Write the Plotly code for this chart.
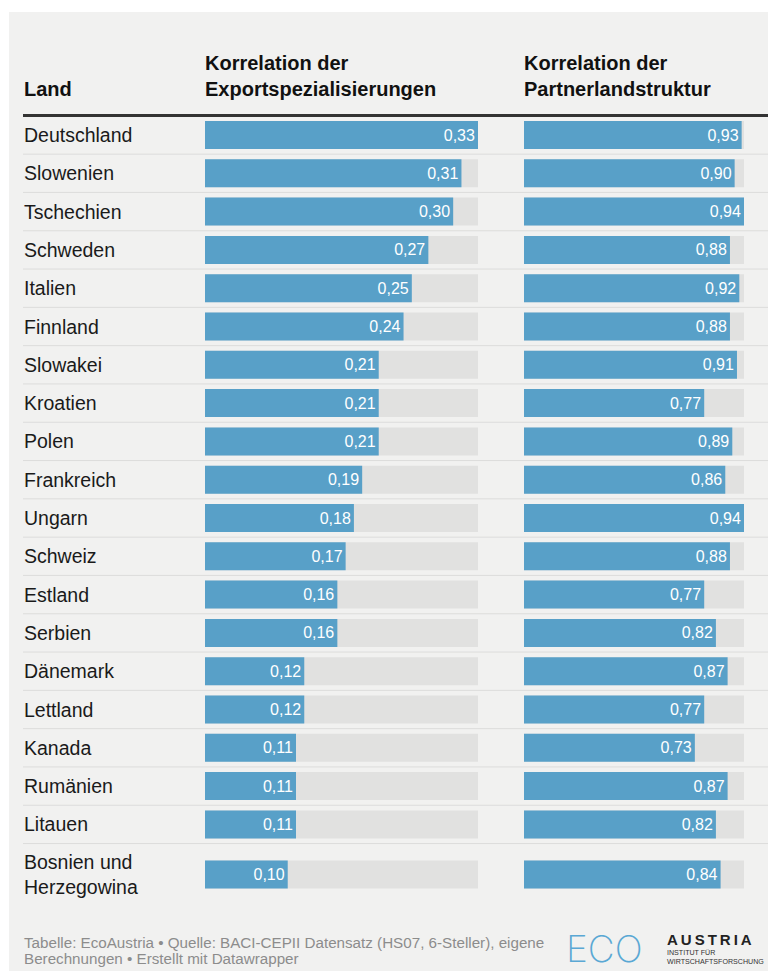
import plotly.graph_objects as go

laender = ["Deutschland", "Slowenien", "Tschechien", "Schweden", "Italien", "Finnland",
           "Slowakei", "Kroatien", "Polen", "Frankreich", "Ungarn", "Schweiz", "Estland",
           "Serbien", "Dänemark", "Lettland", "Kanada", "Rumänien", "Litauen",
           "Bosnien und<br>Herzegowina"]
export_korr = [0.33, 0.31, 0.30, 0.27, 0.25, 0.24, 0.21, 0.21, 0.21, 0.19,
               0.18, 0.17, 0.16, 0.16, 0.12, 0.12, 0.11, 0.11, 0.11, 0.10]
partner_korr = [0.93, 0.90, 0.94, 0.88, 0.92, 0.88, 0.91, 0.77, 0.89, 0.86,
                0.94, 0.88, 0.77, 0.82, 0.87, 0.77, 0.73, 0.87, 0.82, 0.84]
headers = ["Land", "Korrelation der<br>Exportspezialisierungen", "Korrelation der<br>Partnerlandstruktur"]
footer_lines = ["Tabelle: EcoAustria • Quelle: BACI-CEPII Datensatz (HS07, 6-Steller), eigene",
                "Berechnungen • Erstellt mit Datawrapper"]

W, H = 768, 971
BG = "#f1f1f0"
BLUE = "#58a0c8"
TRACK = "#e1e1e0"
FONT = "Liberation Sans, Arial, sans-serif"

# row geometry (pixels)
row_px = 38.3
first_center = 135.0
top_px, bottom_px = 117.0, 910.0


def px_x(x):
    return x / W


def px_y(y):
    return 1 - y / H


# the two-line last row sits a bit lower
ypos = [i for i in range(len(laender) - 1)] + [len(laender) - 1 + 0.31]
yrange = [(bottom_px - first_center) / row_px, (top_px - first_center) / row_px]

fig = go.Figure()
for xa, vals, vmax in [("x", export_korr, max(export_korr)), ("x2", partner_korr, max(partner_korr))]:
    fig.add_trace(go.Bar(x=[vmax] * len(vals), y=ypos, orientation="h", xaxis=xa, yaxis="y",
                         marker=dict(color=TRACK, line_width=0), width=28 / row_px,
                         hoverinfo="skip", showlegend=False))
    fig.add_trace(go.Bar(x=vals, y=ypos, orientation="h", xaxis=xa, yaxis="y",
                         marker=dict(color=BLUE, line_width=0), width=28 / row_px,
                         texttemplate="%{x:.2f}", textposition="inside", insidetextanchor="end",
                         textfont=dict(color="white", size=16, family=FONT),
                         showlegend=False))

# grey panel
shapes = [dict(type="rect", xref="paper", yref="paper", x0=px_x(9), x1=1, y0=0, y1=px_y(12),
               fillcolor=BG, line_width=0, layer="below")]
# header rule
shapes.append(dict(type="line", xref="paper", yref="paper", x0=px_x(23), x1=1,
                   y0=px_y(115.5), y1=px_y(115.5), line=dict(color="#333333", width=3)))
# row separators
for i in range(len(laender) - 1):
    shapes.append(dict(type="line", xref="paper", yref="y", x0=px_x(23), x1=1,
                       y0=i + 0.5, y1=i + 0.5, line=dict(color="#dcdcdb", width=1)))

annotations = []
for name, y in zip(laender, ypos):
    annotations.append(dict(text=name, xref="paper", yref="y", x=px_x(22), y=y,
                            xanchor="left", yanchor="middle", showarrow=False, align="left",
                            font=dict(size=19.5, color="#1a1a1a", family=FONT)))

head_x = [22, 203, 522]
head_y = [89, 76, 76]
for txt, x, y in zip(headers, head_x, head_y):
    annotations.append(dict(text=txt, xref="paper", yref="paper", x=px_x(x), y=px_y(y),
                            xanchor="left", yanchor="middle", showarrow=False, align="left",
                            font=dict(size=20, color="#111111", family=FONT, weight=600)))

for txt, y in zip(footer_lines, [942, 958]):
    annotations.append(dict(text=txt, xref="paper", yref="paper", x=px_x(22), y=px_y(y),
                            xanchor="left", yanchor="middle", showarrow=False, align="left",
                            font=dict(size=15.2, color="#8c8c8c", family=FONT)))

# EcoAustria logo as text
annotations.append(dict(text="ECO", xref="paper", yref="paper", x=px_x(564), y=px_y(948),
                        xanchor="left", yanchor="middle", showarrow=False,
                        font=dict(size=37, color="#5aa8d4", family="Inter", weight=200)))
annotations.append(dict(text="A\u2009U\u2009S\u2009T\u2009R\u2009I\u2009A", xref="paper", yref="paper",
                        x=px_x(665), y=px_y(939.5), xanchor="left", yanchor="middle", showarrow=False,
                        font=dict(size=15, color="#222222", family=FONT, weight="bold")))
annotations.append(dict(text="INSTITUT FÜR<br>WIRTSCHAFTSFORSCHUNG", xref="paper", yref="paper",
                        x=px_x(665), y=px_y(957), xanchor="left", yanchor="middle", showarrow=False,
                        align="left", font=dict(size=7.1, color="#333333", family=FONT)))

axis_common = dict(showgrid=False, zeroline=False, showticklabels=False, showline=False, fixedrange=True)
fig.update_layout(
    width=W, height=H,
    margin=dict(l=0, r=0, t=0, b=0),
    paper_bgcolor="white", plot_bgcolor="rgba(0,0,0,0)",
    barmode="overlay", separators=",.",
    xaxis=dict(domain=[px_x(205), px_x(478)], range=[0, max(export_korr)], **axis_common),
    xaxis2=dict(domain=[px_x(524), px_x(744)], range=[0, max(partner_korr)], anchor="y", **axis_common),
    yaxis=dict(domain=[px_y(bottom_px), px_y(top_px)], range=yrange, **axis_common),
    shapes=shapes, annotations=annotations,
    font=dict(family=FONT),
)

# drop the default body margin so the figure fills the window exactly
fig.write_html("out.html", config={"displayModeBar": False},
               post_script="document.body.style.margin='0';document.body.style.overflow='hidden';")
